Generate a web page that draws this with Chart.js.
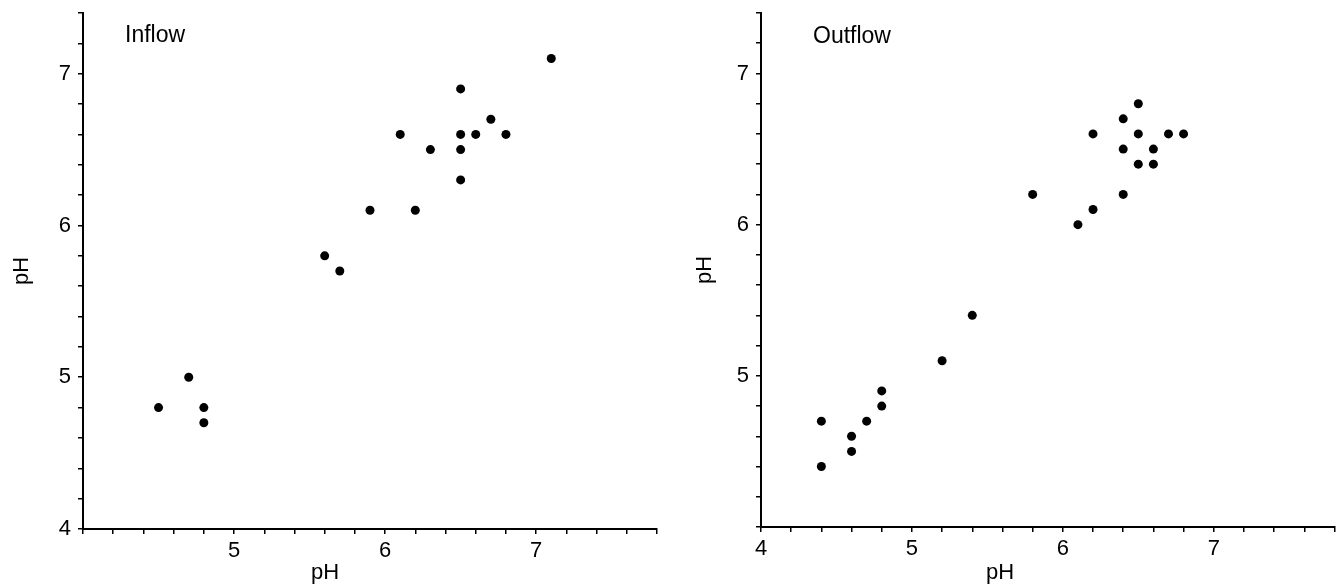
<!DOCTYPE html>
<html>
<head>
<meta charset="utf-8">
<script src="https://cdn.jsdelivr.net/npm/chart.js@4.4.1/dist/chart.umd.min.js"></script>
<style>
  html, body { margin: 0; padding: 0; background: #fff; }
  .panel { position: absolute; top: 0; height: 586px; }
  #left  { left: 0;     width: 670px; }
  #right { left: 670px; width: 669px; }
</style>
</head>
<body>
<div class="panel" id="left"><canvas id="inflowChart" width="670" height="586"></canvas></div>
<div class="panel" id="right"><canvas id="outflowChart" width="669" height="586"></canvas></div>
<script>
// ── Data (pH pairs) ──────────────────────────────────────
const inflowX  = [4.5, 4.7, 4.8, 4.8, 5.6, 5.7, 5.9, 6.1, 6.2, 6.3, 6.5, 6.5, 6.5, 6.5, 6.6, 6.7, 6.8, 7.1];
const inflowY  = [4.8, 5.0, 4.8, 4.7, 5.8, 5.7, 6.1, 6.6, 6.1, 6.5, 6.9, 6.6, 6.5, 6.3, 6.6, 6.7, 6.6, 7.1];

const outflowX = [4.4, 4.4, 4.6, 4.6, 4.7, 4.8, 4.8, 5.2, 5.4, 5.8, 6.1, 6.2, 6.2, 6.4, 6.4, 6.4, 6.5, 6.5, 6.5, 6.6, 6.6, 6.7, 6.8];
const outflowY = [4.7, 4.4, 4.6, 4.5, 4.7, 4.9, 4.8, 5.1, 5.4, 6.2, 6.0, 6.6, 6.1, 6.7, 6.5, 6.2, 6.8, 6.6, 6.4, 6.5, 6.4, 6.6, 6.6];

const xRange = [4, 7.8];
const yRange = [4, 7.4];
const tickStep = 0.2;

const FONT = '"Liberation Sans", Arial, Helvetica, sans-serif';

// ── Helpers ──────────────────────────────────────────────
const toPoints = (xs, ys) => xs.map((x, i) => ({ x, y: ys[i] }));

function intLabel(showFour) {
  return v => {
    const r = Math.round(v);
    if (Math.abs(v - r) > 1e-6) return '';
    if (r === 4 && !showFour) return '';
    return String(r);
  };
}

// panel name + x title, drawn as plain canvas text
const panelText = {
  id: 'panelText',
  afterDraw(chart, args, o) {
    const { ctx } = chart;
    ctx.save();
    ctx.fillStyle = '#000';
    ctx.font = `23px ${FONT}`;
    ctx.textAlign = 'left';
    ctx.textBaseline = 'alphabetic';
    ctx.fillText(o.name, o.nameX, o.nameY);
    ctx.font = `22px ${FONT}`;
    ctx.textAlign = 'center';
    ctx.textBaseline = 'middle';
    ctx.fillText('pH', o.titleX, o.titleY);
    ctx.restore();
  }
};

function axis(min, max, cb, fitKey, fitVal, pad, extra = {}) {
  return {
    type: 'linear', min, max,
    grid:   { drawOnChartArea: false, drawTicks: true, tickLength: 5, color: '#000', lineWidth: 1.5 },
    border: { display: true, color: '#000', width: 2 },
    ticks:  { stepSize: tickStep, autoSkip: false, maxRotation: 0, color: '#000', padding: pad,
              font: { family: FONT, size: 22 }, callback: cb },
    afterFit: s => {
      s[fitKey] = fitVal;
      s.paddingTop = 0; s.paddingBottom = 0; s.paddingLeft = 0; s.paddingRight = 0;
    },
    ...extra,
  };
}

function makeScatter(canvasId, xs, ys, cfg) {
  return new Chart(document.getElementById(canvasId), {
    type: 'scatter',
    data: { datasets: [{ data: toPoints(xs, ys), backgroundColor: '#000', borderWidth: 0, pointRadius: 4.5 }] },
    options: {
      responsive: false, animation: false,
      layout: { padding: { left: 0, right: cfg.padRight, top: 13, bottom: 0 } },
      plugins: { legend: { display: false }, tooltip: { enabled: false }, panelText: cfg.text },
      scales: {
        x: axis(xRange[0], xRange[1], intLabel(cfg.xFour), 'height', cfg.xHeight, 4),
        y: axis(yRange[0], yRange[1], intLabel(cfg.yFour), 'width', cfg.yWidth, 7, {
          title: { display: true, text: 'pH', color: '#000', padding: { top: cfg.yTitlePad, bottom: 0 },
                   font: { family: FONT, size: 22 } },
        }),
      },
    },
    plugins: [panelText],
  });
}

// ── Charts ───────────────────────────────────────────────
makeScatter('inflowChart', inflowX, inflowY, {
  padRight: 13, xHeight: 57, yWidth: 83, xFour: false, yFour: true, yTitlePad: 9,
  text: { name: 'Inflow', nameX: 125, nameY: 42, titleX: 325, titleY: 573 },
});

makeScatter('outflowChart', outflowX, outflowY, {
  padRight: 4, xHeight: 59, yWidth: 91, xFour: true, yFour: false, yTitlePad: 22,
  text: { name: 'Outflow', nameX: 143, nameY: 43, titleX: 330, titleY: 573 },
});
</script>
</body>
</html>
